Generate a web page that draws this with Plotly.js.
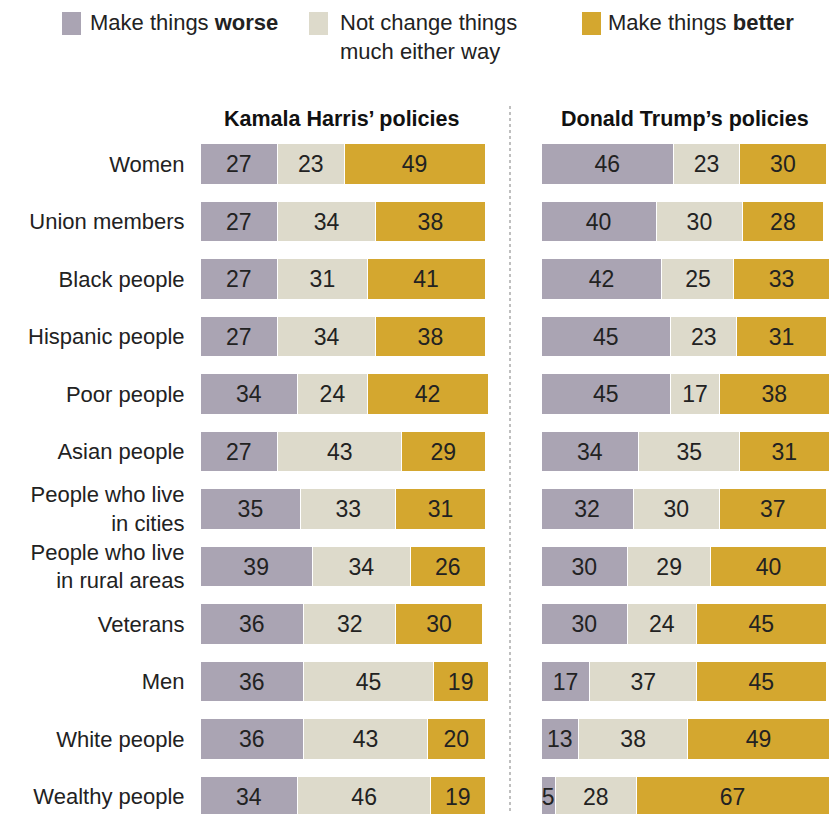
<!DOCTYPE html>
<html>
<head>
<meta charset="utf-8">
<script src="https://cdn.plot.ly/plotly-3.0.1.min.js"></script>
<style>html,body{margin:0;padding:0;background:#fff;}#chart{width:829px;height:814px;}</style>
</head>
<body>
<div id="chart"></div>
<script>
const categories = ["Women","Union members","Black people","Hispanic people","Poor people","Asian people","People who live<br>in cities","People who live<br>in rural areas","Veterans","Men","White people","Wealthy people"];
const harrisWorse  = [27,27,27,27,34,27,35,39,36,36,36,34];
const harrisSame   = [23,34,31,34,24,43,33,34,32,45,43,46];
const harrisBetter = [49,38,41,38,42,29,31,26,30,19,20,19];
const trumpWorse   = [46,40,42,45,45,34,32,30,30,17,13,5];
const trumpSame    = [23,30,25,23,17,35,30,29,24,37,38,28];
const trumpBetter  = [30,28,33,31,38,31,37,40,45,45,49,67];
const seriesNames = ["Make things worse","Not change things much either way","Make things better"];
const panelTitles = ["Kamala Harris\u2019 policies","Donald Trump\u2019s policies"];

const W = 829, H = 814;
const px = v => v / W;
const py = v => 1 - v / H;
const colors = ["#aaa4b3","#dddacb","#d4a72f"];
const FONT = "Liberation Sans, Arial, sans-serif";

function mk(vals, i, xa){
  return {
    type:"bar", orientation:"h", y:categories, x:vals, xaxis:xa, yaxis:"y",
    name:seriesNames[i], marker:{color:colors[i], line:{color:"#ffffff", width:1}},
    text:vals.map(String), textposition:"inside", insidetextanchor:"middle",
    constraintext:"none", textfont:{family:FONT, size:23, color:"#222222"},
    hoverinfo:"skip", showlegend:false
  };
}
const data = [
  mk(harrisWorse,0,"x"), mk(harrisSame,1,"x"), mk(harrisBetter,2,"x"),
  mk(trumpWorse,0,"x2"), mk(trumpSame,1,"x2"), mk(trumpBetter,2,"x2")
];

const rowTop = 164, rowStep = 57.5;
const layout = {
  width:W, height:H, margin:{l:0,r:0,t:0,b:0},
  paper_bgcolor:"#fff", plot_bgcolor:"#fff",
  barmode:"stack", bargap:0.29,
  font:{family:FONT, color:"#222"},
  xaxis:{domain:[px(200), px(488)], range:[0,100], visible:false, fixedrange:true},
  xaxis2:{domain:[px(541), px(829)], range:[0,100], visible:false, anchor:"y", fixedrange:true},
  yaxis:{type:"category", categoryarray:categories, categoryorder:"array",
    range:[(H-rowTop)/rowStep, -rowTop/rowStep], anchor:"x",
    showgrid:false, zeroline:false, showline:false,
    ticks:"outside", ticklen:10, tickcolor:"rgba(0,0,0,0)",
    tickfont:{family:FONT, size:22, color:"#222"}, fixedrange:true},
  shapes:[
    {type:"rect", xref:"paper", yref:"paper", x0:px(62), x1:px(81), y0:py(12), y1:py(35), fillcolor:colors[0], line:{width:0}},
    {type:"rect", xref:"paper", yref:"paper", x0:px(309), x1:px(328), y0:py(12), y1:py(35), fillcolor:colors[1], line:{width:0}},
    {type:"rect", xref:"paper", yref:"paper", x0:px(582), x1:px(601), y0:py(12), y1:py(35), fillcolor:colors[2], line:{width:0}},
    {type:"line", xref:"paper", yref:"paper", x0:px(510), x1:px(510), y0:py(106), y1:0, line:{color:"#aaaaaa", width:1.5, dash:"dot"}}
  ],
  annotations:[
    {xref:"paper", yref:"paper", x:px(88), y:py(23), xanchor:"left", yanchor:"middle", showarrow:false,
     text:"Make things <b>worse</b>", font:{family:FONT, size:22, color:"#222"}},
    {xref:"paper", yref:"paper", x:px(338), y:py(8), xanchor:"left", yanchor:"top", align:"left", showarrow:false,
     text:"Not change things<br>much either way", font:{family:FONT, size:22, color:"#222"}},
    {xref:"paper", yref:"paper", x:px(606), y:py(23), xanchor:"left", yanchor:"middle", showarrow:false,
     text:"Make things <b>better</b>", font:{family:FONT, size:22, color:"#222"}},
    {xref:"paper", yref:"paper", x:px(341), y:py(119), xanchor:"center", yanchor:"middle", showarrow:false,
     text:"<b>"+panelTitles[0]+"</b>", font:{family:FONT, size:21.5, color:"#111"}},
    {xref:"paper", yref:"paper", x:px(685), y:py(119), xanchor:"center", yanchor:"middle", showarrow:false,
     text:"<b>"+panelTitles[1]+"</b>", font:{family:FONT, size:21.5, color:"#111"}}
  ]
};
Plotly.newPlot("chart", data, layout, {displayModeBar:false, staticPlot:true});
</script>
</body>
</html>
